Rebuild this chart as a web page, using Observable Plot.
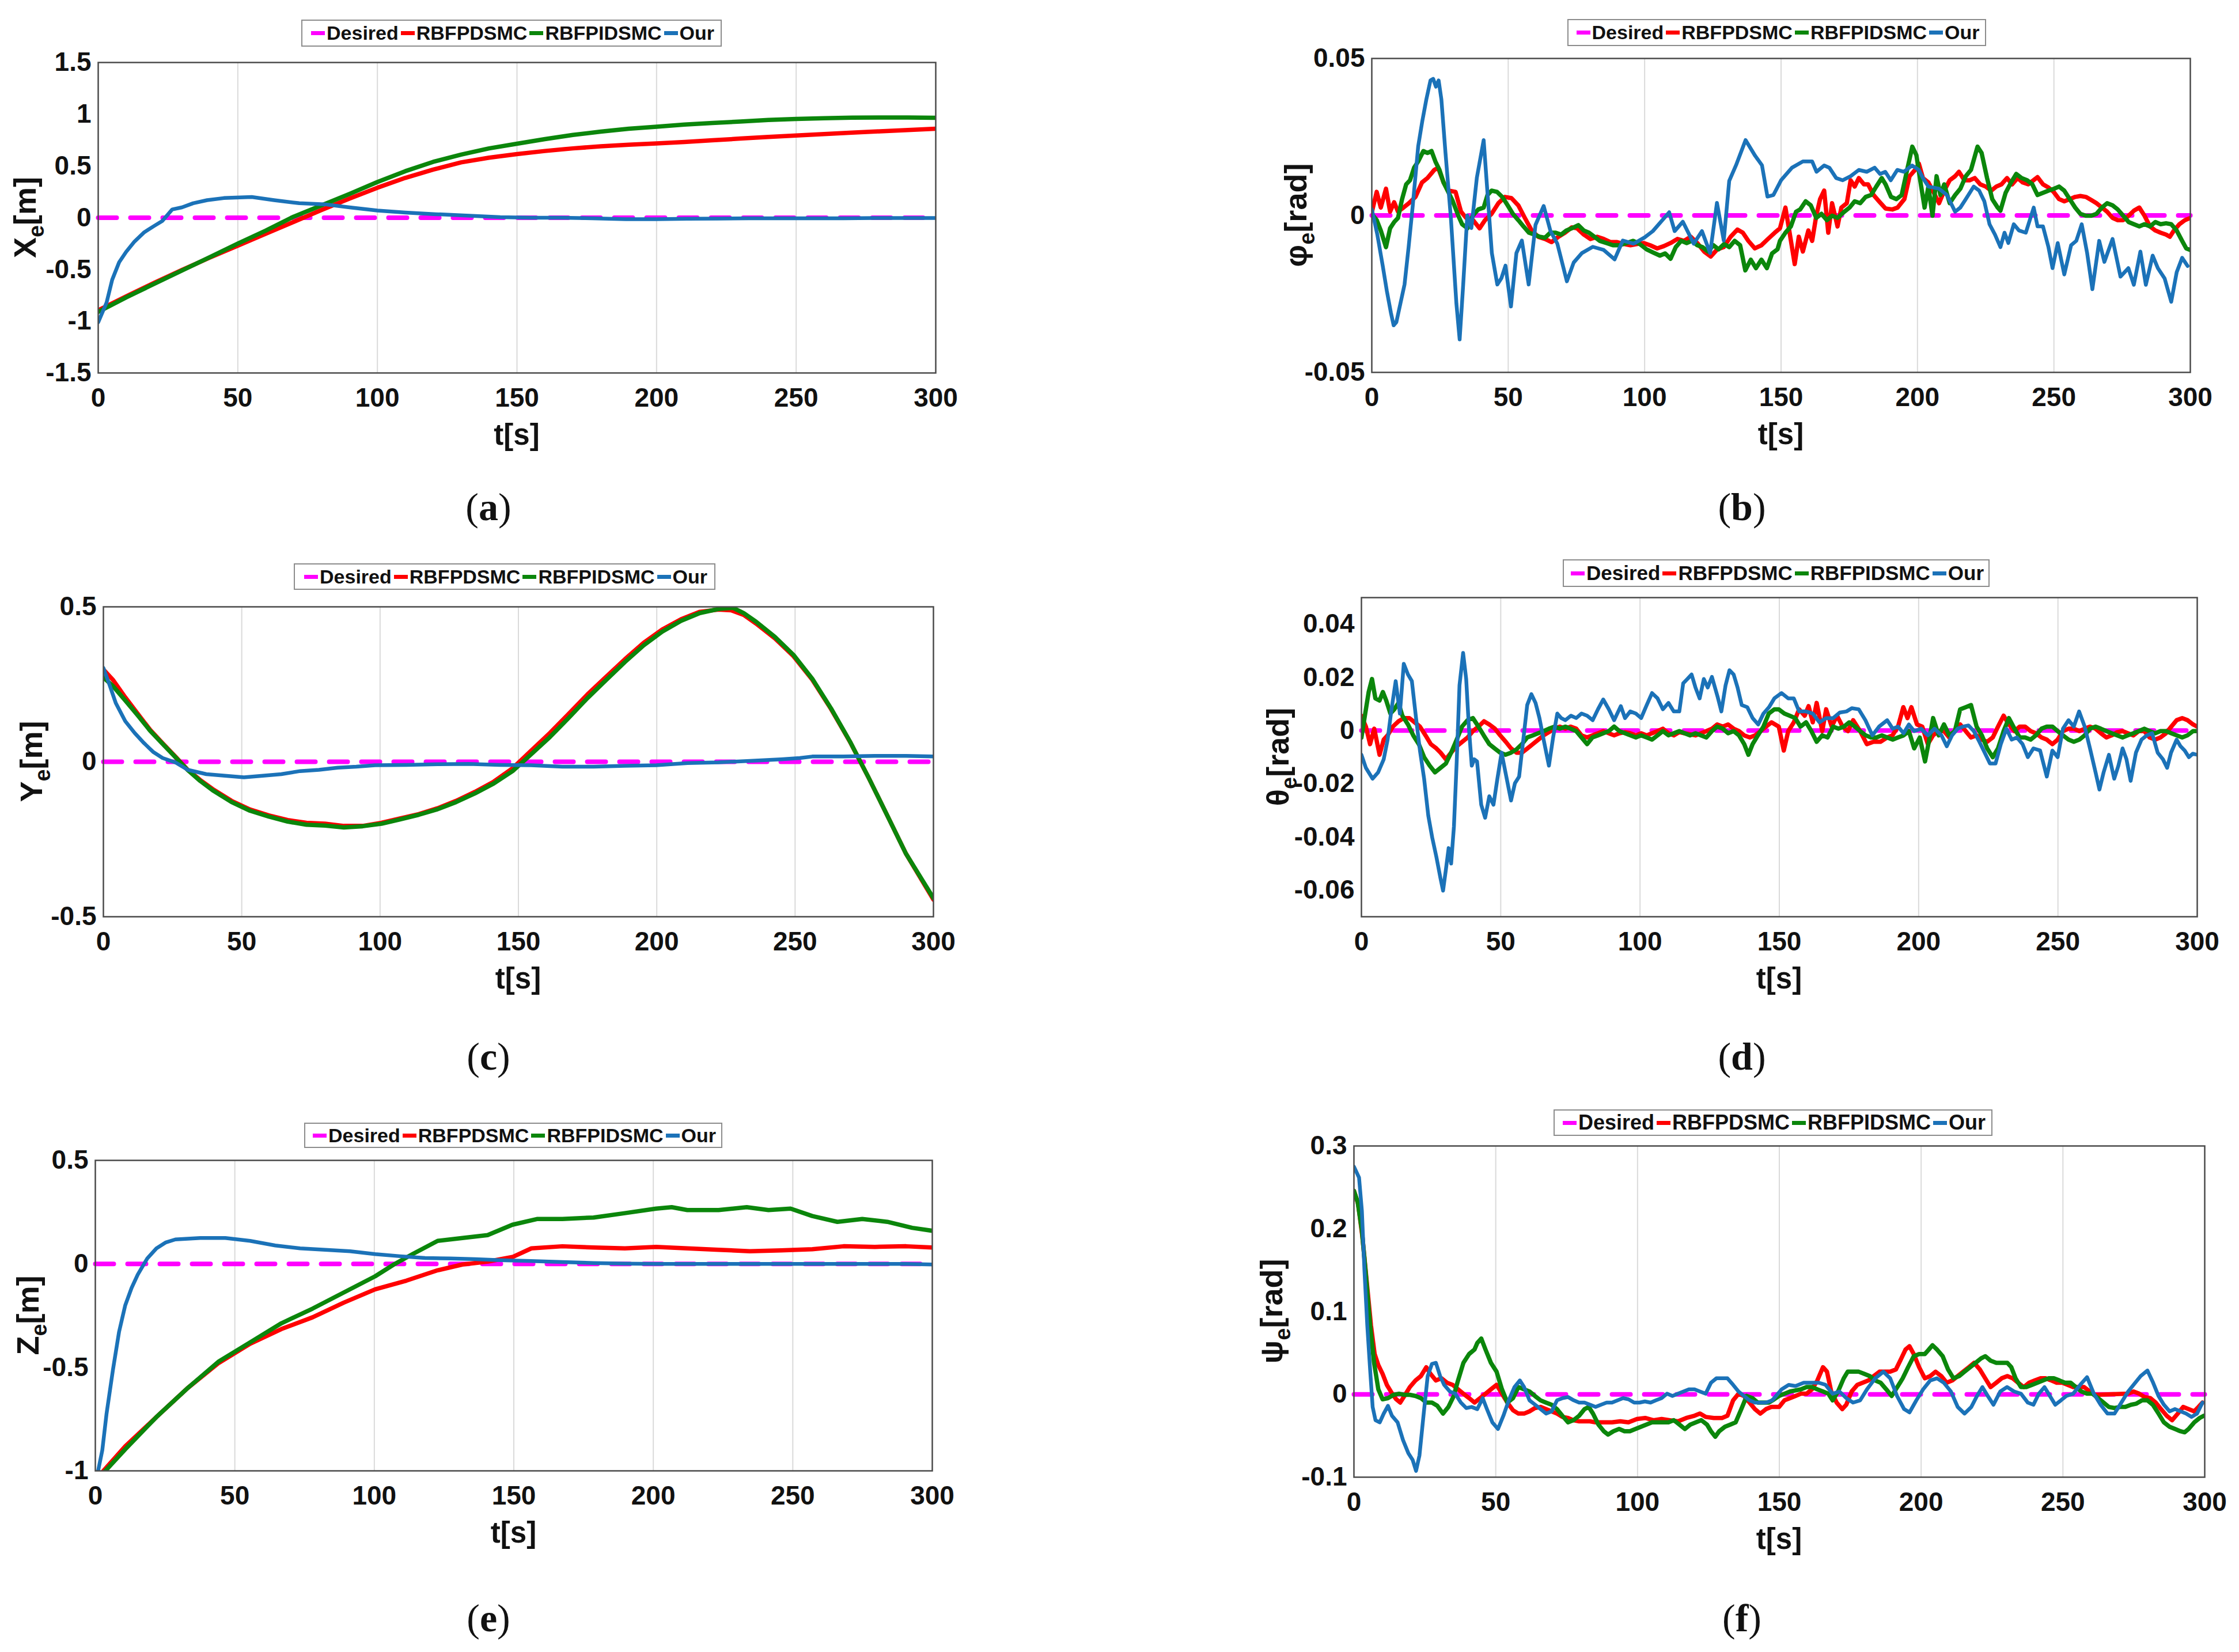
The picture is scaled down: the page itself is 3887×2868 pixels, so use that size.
<!DOCTYPE html>
<html><head><meta charset="utf-8">
<script src="https://cdn.jsdelivr.net/npm/d3@7"></script>
<script src="https://cdn.jsdelivr.net/npm/@observablehq/plot@0.6"></script>
<style>
body{margin:0;background:#fff;width:3887px;height:2868px;position:relative;overflow:hidden;font-family:"Liberation Sans",Arial,sans-serif;}
.legend{position:absolute;display:flex;align-items:center;justify-content:center;border:2px solid #8c8c8c;background:#fff;font-weight:bold;color:#111;box-sizing:border-box;white-space:nowrap;}
.legend .sw{display:inline-block;width:24px;height:7px;margin:0 3px 0 4px;}
.cap{position:absolute;font-family:"Liberation Serif","Times New Roman",serif;font-size:68px;color:#111;transform:translate(-50%,-50%);}
</style></head><body>
<script>
const xTicks = [0,50,100,150,200,250,300];
const seriesNames = ["Desired","RBFPDSMC","RBFPIDSMC","Our"];
const seriesColors = ["#ff00ff","#ff0000","#0b860b","#1b72b8"];
const desired = [[0,0],[300,0]];

// (a) X_e
const aTicks = [-1.5,-1,-0.5,0,0.5,1,1.5];
const aRed = [[0,-0.895],[10,-0.76],[20,-0.63],[30,-0.505],[40,-0.385],[50,-0.27],[60,-0.155],[70,-0.04],[80,0.075],[90,0.185],[100,0.29],[110,0.385],[120,0.465],[130,0.535],[140,0.58],[150,0.615],[160,0.645],[170,0.67],[180,0.69],[190,0.705],[200,0.718],[210,0.732],[220,0.748],[230,0.765],[240,0.78],[250,0.795],[260,0.808],[270,0.822],[280,0.835],[290,0.848],[300,0.86]];
const aGreen = [[0,-0.91],[10,-0.77],[20,-0.64],[30,-0.51],[40,-0.38],[50,-0.25],[60,-0.125],[70,0.01],[80,0.12],[90,0.23],[100,0.345],[110,0.45],[120,0.54],[130,0.61],[140,0.67],[150,0.715],[160,0.76],[170,0.8],[180,0.832],[190,0.86],[200,0.88],[210,0.9],[220,0.915],[230,0.93],[240,0.945],[250,0.955],[260,0.962],[270,0.967],[280,0.968],[290,0.968],[300,0.965]];
const aBlue = [[0,-1.01],[3,-0.82],[5,-0.6],[7.5,-0.43],[10,-0.33],[13,-0.23],[16.5,-0.14],[20,-0.08],[23,-0.03],[26.5,0.08],[30,0.1],[34,0.14],[39,0.17],[45,0.19],[55,0.2],[63,0.17],[72,0.14],[81,0.13],[90,0.1],[100,0.07],[110,0.05],[121,0.034],[133,0.02],[144,0.006],[155,0],[166,0],[177,-0.005],[189,-0.014],[200,-0.014],[211,-0.01],[222,-0.008],[233,-0.006],[245,-0.006],[256,-0.006],[267,-0.005],[278,-0.003],[289,-0.003],[300,-0.003]];

// (b) phi_e
const bTicks = [-0.05,0,0.05];
const bRed = [[0,0.001],[1.8,0.0075],[3.3,0.0025],[5.2,0.0085],[6.7,0.0012],[8.2,0.0042],[9.6,0.0012],[11.6,0.0025],[13.6,0.0039],[16,0.0059],[18.4,0.0105],[20.4,0.0119],[22.9,0.0145],[24.3,0.0152],[26.3,0.0105],[28.2,0.0079],[30.7,0.0075],[32.7,0.0012],[34.6,-0.0008],[37.1,-0.0015],[39.5,-0.0041],[41.5,-0.0015],[43.9,0.0005],[46.4,0.0039],[48.8,0.0059],[51.2,0.0055],[53.7,0.0032],[56.1,-0.0008],[58.6,-0.0048],[61,-0.0068],[63.5,-0.0075],[65.9,-0.0085],[68.4,-0.0068],[70.8,-0.0055],[73.3,-0.0038],[75.2,-0.0041],[77.7,-0.0061],[80.1,-0.0075],[82.6,-0.0068],[85,-0.0075],[87.5,-0.0085],[89.9,-0.0085],[92.4,-0.0091],[94.8,-0.0095],[97.3,-0.0091],[99.7,-0.0088],[102,-0.0095],[104.6,-0.0105],[107,-0.0098],[109.5,-0.0088],[112,-0.0075],[114.4,-0.0081],[116.9,-0.0068],[119.3,-0.0088],[121.8,-0.0115],[124.2,-0.0131],[126.6,-0.0108],[129,-0.0101],[131.5,-0.0068],[134,-0.0045],[136,-0.0055],[138,-0.0081],[140.4,-0.0105],[142.8,-0.0095],[145.2,-0.0075],[147.7,-0.0055],[149.6,-0.0041],[151.6,0.0025],[153,-0.0048],[155,-0.0155],[156.5,-0.0068],[158,-0.0115],[160,-0.0048],[161.4,-0.0081],[162.9,-0.0001],[164.3,0.0052],[165.8,0.0079],[167.3,-0.0055],[168.7,0.0039],[170.7,-0.0035],[172.1,0.0025],[174.1,0.0039],[175.5,0.0112],[177,0.0092],[178.5,0.0119],[180.4,0.0099],[181.9,0.0099],[183.9,0.0065],[185.9,0.0045],[188.3,0.0022],[190.8,0.0019],[192.7,0.0025],[195.2,0.0052],[197.1,0.0125],[199.1,0.0145],[200.5,0.0165],[202,0.0119],[204,0.0105],[206,0.0072],[207.9,0.0039],[209.8,0.0079],[211.8,0.0112],[213.8,0.0125],[215.2,0.0139],[217.2,0.0112],[219.1,0.0112],[221,0.0119],[223,0.0099],[225,0.0092],[227,0.0079],[228.9,0.0092],[230.8,0.0099],[232.8,0.0119],[234.7,0.0099],[236.7,0.0119],[238.6,0.0105],[240.6,0.0099],[242.5,0.0112],[244,0.0122],[246,0.0099],[248,0.0089],[249.9,0.0075],[251.9,0.0052],[253.8,0.0045],[255.8,0.0052],[257.8,0.0059],[259.7,0.0062],[261.7,0.0059],[263.7,0.0049],[265.6,0.0039],[267.6,0.0025],[269.5,0.0012],[271.5,-0.0008],[273.4,-0.0015],[275.4,-0.0015],[277.4,-0.0001],[279.3,0.0015],[281.3,0.0025],[283.2,-0.0001],[285.2,-0.0035],[287.2,-0.0048],[289.1,-0.0055],[291.1,-0.0061],[292.5,-0.0068],[294,-0.0048],[296,-0.0028],[298,-0.0015],[300,-0.0008]];
const bGreen = [[0,0.0005],[1.8,-0.0015],[3.3,-0.0048],[5.2,-0.0101],[6.7,-0.0041],[8.2,-0.0021],[9.6,-0.0008],[11.1,0.0052],[12.6,0.0099],[14,0.0112],[15.5,0.0152],[17,0.0172],[18.9,0.0205],[20.4,0.0199],[21.9,0.0205],[23.3,0.0172],[24.8,0.0145],[26.3,0.0105],[27.8,0.0079],[29.7,0.0045],[31.7,-0.0001],[33.1,-0.0028],[35.1,-0.0041],[37,-0.0001],[39,0.0019],[41,0.0025],[42.4,0.0065],[43.9,0.0079],[45.9,0.0075],[47.8,0.0059],[49.8,0.0032],[51.7,0.0005],[53.7,-0.0015],[55.6,-0.0035],[57.6,-0.0055],[59.6,-0.0061],[61.5,-0.0068],[63.5,-0.0071],[65.4,-0.0055],[67.4,-0.0055],[69.4,-0.0061],[71.3,-0.0048],[73.3,-0.0041],[75.7,-0.0031],[77.7,-0.0048],[79.6,-0.0055],[81.6,-0.0068],[83.5,-0.0081],[86,-0.0088],[88.4,-0.0095],[90.9,-0.0095],[93.3,-0.0088],[95.8,-0.0081],[98.2,-0.0091],[100.7,-0.0108],[103.1,-0.0118],[105.6,-0.0128],[107.5,-0.0121],[109.5,-0.0138],[111.4,-0.0101],[113.4,-0.0081],[115.4,-0.0088],[117.3,-0.0081],[119.3,-0.0095],[121.2,-0.0101],[123.2,-0.0115],[125.2,-0.0095],[127.1,-0.0108],[129.1,-0.0091],[131,-0.0101],[133,-0.0081],[135,-0.0095],[136.9,-0.0175],[138.9,-0.0141],[140.8,-0.0168],[142.8,-0.0141],[144.8,-0.0168],[146.7,-0.0121],[148.7,-0.0108],[149.6,-0.0081],[151.6,-0.0055],[153.6,-0.0035],[155.5,0.0012],[157,0.0019],[159,0.0045],[160.9,0.0032],[162.9,-0.0008],[164.8,0.0005],[166.8,-0.0015],[168.7,-0.0001],[170.7,-0.0008],[173.2,0.0012],[175.1,0.0025],[177,0.0045],[179,0.0039],[181,0.0059],[183,0.0065],[184.9,0.0092],[186.9,0.0119],[188.3,0.0099],[190.3,0.0059],[192.3,0.0052],[194.2,0.0065],[196.2,0.0145],[198.1,0.0219],[199.6,0.0192],[201,0.0112],[202.6,0.0025],[204,0.0092],[205.5,-0.0001],[207,0.0125],[208.4,0.0065],[209.8,0.0099],[211.8,0.0039],[213.8,0.0065],[215.7,0.0085],[217.7,0.0125],[219.6,0.0145],[222,0.0219],[223.5,0.0199],[225.5,0.0119],[227.4,0.0052],[229.4,0.0025],[230.4,0.0015],[232.3,0.0072],[234.3,0.0105],[236.2,0.0132],[238.2,0.0119],[240.2,0.0112],[242.1,0.0099],[244,0.0065],[246,0.0072],[248,0.0079],[250,0.0085],[251.9,0.0092],[253.8,0.0079],[255.8,0.0052],[257.8,0.0025],[259.7,0.0005],[261.7,-0.0001],[263.7,-0.0001],[265.6,0.0005],[267.6,0.0025],[269.5,0.0039],[271.5,0.0032],[273.4,0.0019],[275.4,-0.0001],[277.4,-0.0021],[279.3,-0.0028],[281.3,-0.0035],[283.2,-0.0028],[285.2,-0.0035],[287.2,-0.0021],[289.1,-0.0028],[291.1,-0.0025],[293,-0.0028],[295,-0.0048],[297,-0.0081],[298.5,-0.0105],[300,-0.011]];
const bBlue = [[0,0.002],[2,-0.006],[4,-0.016],[5.5,-0.024],[7,-0.031],[8,-0.035],[9,-0.034],[10.5,-0.028],[12,-0.022],[13.5,-0.01],[15,0.003],[17,0.022],[18.5,0.03],[20,0.037],[21.5,0.043],[22.5,0.0435],[23.5,0.041],[24.5,0.043],[25.5,0.037],[27,0.02],[29,-0.001],[31,-0.028],[32.2,-0.0395],[33.5,-0.022],[35,0],[36.5,-0.004],[38.5,0.012],[41,0.024],[42.5,0.006],[44,-0.012],[46,-0.022],[47.5,-0.02],[49,-0.016],[51,-0.029],[53,-0.012],[55,-0.008],[57.5,-0.022],[60,-0.003],[63,0.003],[65.5,-0.005],[68,-0.009],[71.5,-0.021],[74,-0.015],[77,-0.012],[81,-0.01],[85,-0.011],[89,-0.014],[92,-0.008],[96,-0.009],[100,-0.007],[103,-0.005],[106,-0.002],[109,0.001],[111,-0.005],[114,-0.002],[118,-0.009],[121,-0.005],[124,-0.012],[126.5,0.004],[129,-0.008],[131,0.011],[133.5,0.016],[137,0.024],[140.5,0.019],[143,0.016],[145,0.006],[147.2,0.0065],[150,0.0112],[154,0.0152],[158,0.0172],[161.4,0.0172],[163,0.0139],[165.8,0.0159],[167.7,0.0152],[170.2,0.0119],[172.6,0.0112],[175.5,0.0125],[178.5,0.0145],[181.4,0.0139],[184.3,0.0152],[186.3,0.0132],[188.2,0.0139],[190.2,0.0112],[192.6,0.0145],[195,0.0139],[198,0.0159],[200.5,0.0145],[202,0.0119],[204,0.0092],[207.9,0.0085],[210.8,0.0065],[213.8,0.0012],[215.7,0.0025],[217.7,0.0052],[220.6,0.0092],[222.6,0.0079],[224.5,0.0045],[226.4,-0.0028],[228.4,-0.0061],[230.4,-0.0101],[231.9,-0.0055],[233.3,-0.0088],[235.3,-0.0028],[237.2,-0.0048],[239.7,-0.0055],[242.6,0.0025],[244,-0.0035],[246,-0.0035],[248,-0.0101],[249.5,-0.0168],[251.4,-0.0088],[253.8,-0.0188],[256.3,-0.0095],[258.2,-0.0081],[260.2,-0.0028],[262.2,-0.0121],[264.1,-0.0235],[266.6,-0.0081],[268.5,-0.0148],[271.5,-0.0075],[274.4,-0.0195],[277.3,-0.0168],[279.3,-0.0221],[281.7,-0.0115],[283.7,-0.0221],[286.2,-0.0128],[288.1,-0.0168],[290.6,-0.0201],[293,-0.0275],[295,-0.0181],[297,-0.0135],[299,-0.0161]];

// (c) Y_e
const cTicks = [-0.5,0,0.5];
const cRed = [[0,0.298],[3.4,0.265],[7.9,0.208],[12.4,0.155],[16.9,0.103],[21.4,0.06],[26,0.017],[30.5,-0.026],[35,-0.059],[39.5,-0.088],[46.3,-0.126],[53,-0.154],[59.8,-0.173],[66.6,-0.188],[73.4,-0.197],[80.1,-0.2],[86.9,-0.207],[93.7,-0.207],[100.5,-0.197],[107.2,-0.183],[114,-0.169],[120.8,-0.15],[127.5,-0.126],[134.3,-0.097],[141.1,-0.064],[147.9,-0.021],[154.6,0.036],[161.4,0.093],[168.2,0.155],[174.9,0.217],[181.7,0.274],[188.5,0.331],[195.3,0.384],[202,0.427],[208.8,0.46],[215.6,0.484],[222.3,0.491],[226.9,0.489],[231.4,0.474],[235.9,0.446],[242.7,0.398],[249.4,0.341],[256.2,0.265],[263,0.17],[269.8,0.065],[276.5,-0.05],[283.3,-0.173],[290.1,-0.297],[300,-0.445]];
const cGreen = [[0,0.272],[3.4,0.245],[7.9,0.198],[12.4,0.15],[16.9,0.1],[21.4,0.058],[26,0.015],[30.5,-0.027],[35,-0.062],[39.5,-0.092],[46.3,-0.13],[53,-0.158],[59.8,-0.177],[66.6,-0.193],[73.4,-0.203],[80.1,-0.206],[86.9,-0.212],[93.7,-0.208],[100.5,-0.2],[107.2,-0.186],[114,-0.171],[120.8,-0.153],[127.5,-0.13],[134.3,-0.102],[141.1,-0.07],[147.9,-0.03],[154.6,0.024],[161.4,0.08],[168.2,0.142],[174.9,0.205],[181.7,0.264],[188.5,0.322],[195.3,0.376],[202,0.42],[208.8,0.455],[215.6,0.48],[222.3,0.493],[227.5,0.497],[231.4,0.48],[235.9,0.452],[242.7,0.403],[249.4,0.345],[256.2,0.268],[263,0.172],[269.8,0.066],[276.5,-0.05],[283.3,-0.173],[290.1,-0.297],[300,-0.44]];
const cBlue = [[0,0.303],[2.3,0.246],[4.5,0.189],[7.9,0.131],[11.3,0.093],[14.7,0.06],[18.1,0.031],[21.4,0.012],[26,-0.002],[30.5,-0.026],[37.2,-0.04],[44,-0.045],[50.8,-0.05],[57.6,-0.045],[64.3,-0.04],[71.1,-0.03],[77.9,-0.026],[84.7,-0.019],[91.4,-0.016],[98.2,-0.011],[109.5,-0.01],[120.8,-0.008],[132.1,-0.007],[143.3,-0.01],[154.6,-0.011],[165.9,-0.016],[177.2,-0.016],[188.5,-0.013],[199.8,-0.011],[211.1,-0.004],[222.3,-0.002],[233.6,0.003],[244.9,0.008],[251.7,0.012],[256.2,0.017],[267.5,0.017],[278.8,0.019],[290.1,0.019],[300,0.017]];

// (d) theta_e
const dTicks = [-0.06,-0.04,-0.02,0,0.02,0.04];
const dRed = [[0,0.0055],[1.6,0.0015],[3.1,-0.0051],[4.6,0.0007],[6.5,-0.0091],[8,-0.0034],[9.4,-0.0018],[11.3,0.0015],[13.3,0.0035],[15.2,0.0047],[17.2,0.0047],[19.1,0.0031],[21,0.0015],[23,-0.0018],[24.9,-0.0051],[26.9,-0.0067],[28.4,-0.0083],[30.3,-0.0108],[32.2,-0.0083],[34.2,-0.0059],[36.2,-0.0042],[38.1,-0.0026],[40,-0.0002],[42,0.0015],[44,0.0035],[45.9,0.0023],[47.9,0.0007],[49.8,-0.0018],[51.8,-0.0042],[53.7,-0.0067],[55.7,-0.0083],[57.6,-0.0083],[59.6,-0.0067],[61.5,-0.0051],[63.5,-0.0034],[65.4,-0.0018],[67.3,-0.0006],[69.3,0.0007],[71.2,0.0015],[73.2,0.0007],[75.1,0.0015],[77.1,0.0007],[79,-0.0018],[81,-0.0026],[82.9,-0.0018],[84.9,-0.001],[86.8,-0.0002],[88.8,-0.001],[90.7,-0.0018],[92.6,-0.001],[94.6,-0.0006],[96.5,-0.001],[98.5,-0.0018],[100.4,-0.001],[102.4,-0.0018],[104.3,-0.001],[106.3,-0.0002],[108.2,0.0007],[110.2,-0.001],[112.1,-0.0018],[114.1,-0.0006],[116,-0.001],[118,-0.0014],[119.9,-0.0018],[121.9,-0.001],[123.8,-0.0002],[125.8,0.0007],[127.7,0.0023],[129.7,0.0015],[131.6,0.0023],[133.6,0.0007],[135.5,-0.0002],[137.4,-0.0018],[139.4,-0.0026],[141.3,-0.0018],[143.3,-0.0002],[145.2,0.0015],[147.2,0.0031],[149.8,0.0015],[151.6,-0.0075],[153.2,-0.0002],[155.2,0.0031],[157.1,0.008],[159.1,0.0056],[160.5,0.0092],[162,0.0031],[163.4,0.0104],[165.4,-0.0002],[166.8,0.008],[168.8,0.0015],[170.7,0.0056],[172.7,0.0015],[174.6,-0.0002],[176.5,0.0039],[179,-0.0002],[181.4,-0.0051],[183.8,-0.0042],[186.3,-0.0042],[188.7,-0.0026],[190.6,-0.0018],[192.6,0.0015],[194.5,0.0088],[196,0.0047],[197.4,0.0088],[199.4,0.0023],[201.3,0.0015],[203.3,-0.0051],[205.2,-0.0018],[207.2,-0.0002],[209.1,-0.0002],[211,-0.0026],[213,-0.0002],[214.9,0.0023],[216.9,-0.0002],[218.8,-0.0026],[220.8,-0.0018],[222.7,-0.0034],[224.6,-0.0042],[226.6,-0.0026],[228.5,0.0015],[230.5,0.0056],[232.4,0.0023],[234.4,-0.0002],[236.3,0.0015],[238.2,0.0015],[240.2,-0.0002],[242.1,-0.001],[244.1,-0.0026],[246,-0.0034],[248,-0.0051],[249.9,-0.0034],[251.8,-0.0002],[253.8,0.0007],[255.7,0.0007],[257.7,-0.0002],[259.6,0.0007],[261.5,0.0015],[263.5,0.0007],[265.4,-0.001],[267.4,-0.0026],[269.3,-0.0018],[271.3,-0.0006],[273.2,-0.0002],[275.1,-0.001],[277.1,-0.0018],[279,-0.0002],[281,-0.0002],[282.9,-0.0026],[284.9,-0.0034],[286.8,-0.0026],[288.8,-0.001],[290.7,0.0015],[292.6,0.0039],[294.6,0.0047],[296.5,0.0039],[298.5,0.0023],[300,0.0015]];
const dGreen = [[0,-0.0026],[1.1,0.0047],[2.6,0.0145],[3.8,0.0194],[5,0.0121],[6.5,0.0113],[7.7,0.0145],[8.9,0.0113],[10.4,0.0064],[11.8,0.008],[13.3,0.0104],[14.7,0.0056],[16.7,0.0023],[18.6,-0.0018],[20.6,-0.0051],[22.5,-0.01],[24.5,-0.0132],[26.4,-0.0157],[28.4,-0.014],[30.3,-0.0124],[32.2,-0.0083],[34.2,-0.0034],[36.1,0.0015],[38.1,0.0039],[40,0.0047],[42,0.0015],[43.9,-0.0018],[45.9,-0.0051],[47.8,-0.0067],[49.8,-0.0083],[51.7,-0.0091],[53.7,-0.0083],[55.6,-0.0071],[57.6,-0.0051],[59.5,-0.0026],[61.5,-0.0018],[63.4,-0.001],[65.4,-0.0002],[67.3,0.0007],[69.3,0.0015],[71.2,0.0007],[73.2,0.0015],[75.1,0.0007],[77.1,-0.0002],[79,-0.0026],[81,-0.0051],[82.9,-0.0026],[84.9,-0.0018],[86.8,-0.001],[88.8,-0.0002],[90.7,0.0015],[92.6,-0.0002],[94.6,-0.001],[96.5,-0.0018],[98.5,-0.0026],[100.4,-0.0018],[102.4,-0.0026],[104.3,-0.0034],[106.3,-0.0018],[108.2,-0.0002],[110.2,-0.0018],[112.1,-0.001],[114.1,-0.0002],[116,-0.001],[118,-0.0018],[119.9,-0.001],[121.9,-0.0018],[123.8,-0.0026],[125.8,-0.0002],[127.7,0.0015],[129.7,0.0007],[131.6,-0.001],[133.6,-0.0002],[135.5,-0.0018],[137.4,-0.0051],[138.9,-0.0091],[140.4,-0.0051],[142.3,-0.0018],[144.3,0.0015],[146.2,0.0064],[148.2,0.008],[149.8,0.008],[151.8,0.0064],[153.7,0.0056],[155.7,0.0047],[157.6,0.0015],[159.6,0.0031],[161.5,-0.0002],[163.4,-0.0042],[165.4,-0.0018],[167.3,-0.0026],[169.3,0.0015],[171.2,0.0007],[173.2,0.0015],[175.1,0.0031],[177.1,0.0015],[179,-0.0002],[181,-0.0018],[182.9,-0.0026],[184.9,-0.0026],[186.8,-0.0018],[188.7,-0.0026],[190.7,-0.0034],[192.6,-0.0026],[194.6,-0.0018],[196.5,-0.0002],[198.4,-0.0067],[200.4,-0.0026],[202.3,-0.0116],[203.8,-0.0034],[205.2,0.0047],[207.2,-0.0018],[209.1,0.0023],[211,-0.0018],[213,-0.0002],[214.9,0.008],[216.9,0.0088],[218.8,0.0096],[220.8,0.0015],[222.7,-0.0018],[224.6,-0.0067],[226.6,-0.01],[228.5,-0.0067],[230.5,-0.0002],[232.4,0.0047],[234.4,0.0007],[236.3,-0.0026],[238.2,-0.0026],[240.2,-0.0034],[242.1,-0.0018],[244.1,0.0007],[246,0.0015],[248,0.0015],[249.9,-0.0002],[251.8,-0.0018],[253.8,-0.0034],[255.7,-0.0042],[257.7,-0.0034],[259.6,-0.0018],[261.5,0.0007],[263.5,0.0015],[265.4,0.0007],[267.4,-0.0002],[269.3,-0.001],[271.3,-0.0018],[273.2,-0.0026],[275.1,-0.0018],[277.1,-0.001],[279,-0.0002],[281,0.0007],[282.9,-0.0002],[284.9,-0.001],[286.8,-0.0002],[288.8,-0.0002],[290.7,-0.001],[292.6,-0.0018],[294.6,-0.0026],[296.5,-0.0018],[298.5,-0.0002],[300,-0.0002]];
const dBlue = [[0,-0.0091],[1.6,-0.014],[4,-0.0181],[6,-0.0157],[8,-0.0108],[9.4,-0.0034],[10.8,0.008],[12.3,0.0186],[13.8,0.0064],[15.2,0.0251],[16.7,0.0211],[18.1,0.0186],[19.6,0.0047],[21,-0.0075],[22.5,-0.0181],[24,-0.032],[25.4,-0.0402],[26.9,-0.0475],[28.4,-0.0557],[29.3,-0.0602],[30.3,-0.0524],[31.3,-0.0442],[32.2,-0.05],[33.2,-0.0361],[34.2,-0.0116],[35.2,0.017],[36.5,0.0292],[37.6,0.0194],[38.6,0.0007],[39.6,-0.0132],[40.5,-0.0108],[41.5,-0.0116],[43,-0.0279],[44.4,-0.0328],[45.9,-0.0247],[47.4,-0.0279],[48.8,-0.0181],[50.3,-0.0083],[51.7,-0.0157],[53.7,-0.0263],[55.1,-0.0198],[56.6,-0.0173],[58.1,-0.0034],[59.5,0.0096],[61,0.0137],[62.5,0.0104],[63.9,0.0047],[65.4,-0.0034],[67.3,-0.0132],[68.8,-0.0026],[70.3,0.0064],[71.7,0.0047],[73.2,0.0039],[75.2,0.0056],[77.1,0.0047],[79,0.0064],[81,0.0056],[83,0.0039],[84.9,0.008],[86.8,0.0117],[88.8,0.008],[90.7,0.0039],[93.1,0.0092],[94.6,0.0047],[96.5,0.0072],[98.5,0.0064],[100.4,0.0047],[102.4,0.0096],[104.3,0.0141],[106.3,0.0121],[108.2,0.008],[110.2,0.0104],[112.1,0.0072],[114.1,0.0072],[115.5,0.0178],[117,0.0194],[118.5,0.0211],[119.9,0.0162],[121.4,0.0121],[122.9,0.0194],[124.3,0.0162],[125.8,0.0202],[127.8,0.0129],[129.2,0.0072],[130.7,0.017],[132.1,0.0227],[133.6,0.0211],[135,0.0162],[136.5,0.0096],[138.5,0.0088],[140.4,0.0047],[142.4,0.0023],[144.3,0.0064],[146.3,0.0088],[148.2,0.0121],[150.8,0.0141],[153.2,0.0121],[155.2,0.0121],[157.1,0.0072],[159.6,0.0072],[162,0.0064],[164.4,0.0031],[166.8,0.0047],[169.3,0.0047],[171.7,0.0068],[174.1,0.0072],[176,0.0084],[178.5,0.008],[180.9,0.0039],[183.4,-0.0018],[185.8,0.0015],[188.7,0.0039],[190.7,0.0007],[192.6,0.0015],[194.6,-0.001],[196.5,0.0023],[198.4,-0.0002],[200.9,0.0007],[203.3,-0.0018],[205.7,0.0007],[208.2,-0.0018],[210.1,-0.0059],[212,-0.0018],[214,0.0007],[215.9,0.0015],[217.9,0.0019],[219.8,-0.0002],[221.8,-0.0042],[223.7,-0.0083],[225.6,-0.0124],[227.6,-0.0124],[229.5,-0.0051],[231.5,0.0007],[233.4,-0.0034],[235.3,-0.0026],[237.3,-0.0051],[239.2,-0.01],[241.2,-0.0067],[243.6,-0.0075],[246,-0.0173],[248,-0.0075],[249.9,-0.01],[251.8,0.0007],[253.8,0.0039],[255.7,0.0015],[257.6,0.0072],[259.6,0.0015],[261.5,-0.0067],[263.5,-0.0157],[264.9,-0.0222],[266.4,-0.0157],[268.3,-0.0091],[270.2,-0.0181],[271.7,-0.0132],[273.2,-0.0067],[274.6,-0.0108],[276.1,-0.0189],[278,-0.0083],[280,-0.0034],[281.9,-0.0018],[283.8,-0.001],[285.8,-0.0083],[287.7,-0.0108],[289.2,-0.014],[290.6,-0.0083],[292.6,-0.0034],[294,-0.0059],[295.5,-0.0075],[297,-0.01],[298.4,-0.0087],[300,-0.0091]];

// (e) Z_e
const eTicks = [-1,-0.5,0,0.5];
const eRed = [[2.9,-1],[10.7,-0.882],[21.9,-0.74],[33.1,-0.6],[44.3,-0.478],[55.5,-0.386],[66.7,-0.315],[77.9,-0.258],[89.1,-0.187],[100.3,-0.123],[111.5,-0.081],[122.7,-0.031],[131.6,-0.003],[140.6,0.011],[149.5,0.033],[156.3,0.075],[167.4,0.085],[178.6,0.079],[189.8,0.075],[201,0.082],[212.2,0.075],[223.4,0.068],[234.6,0.061],[245.8,0.065],[257,0.071],[268.2,0.085],[279.4,0.082],[290.6,0.085],[300,0.079]];
const eGreen = [[3.6,-1],[10.7,-0.896],[21.9,-0.74],[33.1,-0.6],[44.3,-0.471],[55.5,-0.379],[66.7,-0.287],[77.9,-0.216],[89.1,-0.138],[100.3,-0.06],[107,-0.003],[113.7,0.047],[122.7,0.111],[131.6,0.125],[140.6,0.139],[149.5,0.189],[158.5,0.217],[167.4,0.217],[178.6,0.224],[189.8,0.245],[201,0.267],[206.6,0.274],[212.2,0.26],[223.4,0.26],[233.5,0.274],[241.3,0.26],[249.2,0.267],[257,0.231],[266,0.203],[274.9,0.217],[283.9,0.203],[292.8,0.174],[300,0.16]];
const eBlue = [[1,-1],[2.5,-0.9],[4,-0.726],[6.3,-0.513],[8.5,-0.329],[10.7,-0.201],[13,-0.116],[15.2,-0.052],[18.6,0.026],[21.9,0.075],[25.3,0.104],[28.7,0.118],[37.6,0.125],[46.6,0.125],[55.5,0.111],[64.5,0.089],[73.4,0.075],[82.4,0.068],[91.3,0.061],[100.3,0.047],[109.2,0.037],[118.2,0.028],[127.2,0.026],[136.1,0.023],[145.1,0.018],[156.3,0.014],[167.4,0.009],[178.6,0.004],[189.8,0.001],[201,0],[212.2,0],[223.4,0],[234.6,0],[245.8,0],[257,0],[268.2,0],[279.4,0],[290.6,0],[300,-0.003]];

// (f) psi_e
const fTicks = [-0.1,0,0.1,0.2,0.3];
const fRed = [[0,0.2458],[1.5,0.2298],[3,0.1899],[4.5,0.1366],[6,0.0834],[7.3,0.0487],[8.6,0.0354],[10.1,0.0248],[11.6,0.0115],[13.5,0.0008],[14.9,-0.0059],[16.3,-0.0099],[17.8,-0.0019],[19.7,0.0088],[21.7,0.0168],[23.6,0.0221],[25.5,0.0328],[27,0.0248],[28.9,0.0168],[30.9,0.0194],[32.8,0.0141],[34.8,0.0115],[36.7,0.0061],[38.6,0.0008],[40.6,-0.0045],[42.5,-0.0099],[44.5,-0.0045],[46.4,0.0008],[48.3,0.0061],[50.3,0.0115],[52.2,0.0008],[54.1,-0.0099],[56.1,-0.0192],[58,-0.0232],[60,-0.0232],[61.9,-0.0205],[63.8,-0.0165],[65.8,-0.0152],[67.7,-0.0178],[69.7,-0.0205],[71.6,-0.0232],[73.5,-0.0272],[75.5,-0.0285],[77.4,-0.0312],[79.4,-0.0325],[83.2,-0.0325],[85.2,-0.0338],[91,-0.0338],[93.9,-0.0325],[96.8,-0.0338],[99.8,-0.0298],[102.7,-0.0285],[105.6,-0.0312],[108.5,-0.0298],[111.4,-0.0312],[114.3,-0.0325],[117.2,-0.0285],[120.1,-0.0258],[122,-0.0232],[124,-0.0272],[126.9,-0.0285],[129.8,-0.0285],[131.7,-0.0258],[133.7,-0.0072],[135.6,0.0008],[137.5,-0.0019],[139.5,-0.0099],[141.4,-0.0178],[143.3,-0.0232],[145.3,-0.0178],[147.2,-0.0152],[149.9,-0.0152],[151.8,-0.0072],[153.8,-0.0045],[155.7,-0.0019],[157.6,0.0008],[159.6,0.0008],[161.5,0.0061],[163.4,0.0168],[165.4,0.0328],[166.8,0.0274],[168.3,0.0035],[170.2,-0.0099],[172.2,-0.0178],[173.6,-0.0125],[175.5,0.0035],[177.5,0.0115],[179.4,0.0141],[181.4,0.0168],[183.3,0.0221],[185.3,0.0274],[189.1,0.0274],[191.1,0.0301],[193,0.0434],[194.5,0.0541],[195.9,0.0581],[197.4,0.0487],[199.3,0.0328],[201.3,0.0194],[203.2,0.0221],[205.1,0.0274],[207.1,0.0221],[209,0.0141],[211,0.0168],[212.9,0.0221],[214.8,0.0274],[216.8,0.0328],[218.7,0.0381],[220.7,0.0301],[222.6,0.0194],[224.5,0.0088],[226.5,0.0141],[228.4,0.0194],[230.4,0.0221],[232.3,0.0194],[234.2,0.0141],[236.2,0.0088],[238.1,0.0141],[240.1,0.0168],[242,0.0194],[243.9,0.0194],[245.9,0.0168],[247.8,0.0141],[249.8,0.0141],[251.7,0.0115],[253.6,0.0088],[257.5,0.0088],[259.5,0.0035],[261.4,-0.0005],[273,0.0008],[274.9,0.0035],[276.9,0.0008],[278.8,-0.0032],[280.8,-0.0045],[282.7,-0.0099],[284.6,-0.0178],[286.6,-0.0258],[288.5,-0.0312],[290.5,-0.0232],[292.4,-0.0152],[294.3,-0.0178],[296.3,-0.0205],[297.8,-0.0152],[299.2,-0.0099]];
const fGreen = [[0,0.2458],[1.3,0.2325],[2.8,0.1979],[4.2,0.1446],[5.7,0.0834],[7.1,0.0381],[8.6,0.0061],[10.1,-0.0059],[12,-0.0045],[14,-0.0005],[15.9,0.0008],[17.8,-0.0005],[19.7,-0.0005],[21.7,-0.0019],[23.6,-0.0045],[25.5,-0.0099],[27.5,-0.0099],[29.4,-0.0138],[31.4,-0.0232],[33.3,-0.0152],[35.2,-0.0019],[36.7,0.0168],[38.6,0.0381],[40.6,0.0487],[42.5,0.0541],[43.5,0.0621],[44.9,0.0674],[46.4,0.0541],[48.3,0.0381],[50.3,0.0274],[52.2,0.0061],[54.1,-0.0099],[56.1,-0.0045],[58,0.0088],[60,0.0061],[61.9,0.0035],[63.8,-0.0019],[65.8,-0.0072],[67.7,-0.0099],[69.7,-0.0125],[71.6,-0.0178],[73.5,-0.0258],[75.5,-0.0338],[77.4,-0.0312],[79.4,-0.0258],[81.3,-0.0178],[82.8,-0.0152],[84.3,-0.0232],[86.2,-0.0365],[88.1,-0.0445],[89.6,-0.0485],[91.5,-0.0445],[93.5,-0.0418],[95.4,-0.0445],[97.3,-0.0445],[99.3,-0.0418],[101.2,-0.0391],[103.1,-0.0365],[105.1,-0.0338],[110.9,-0.0338],[112.8,-0.0312],[114.8,-0.0365],[116.7,-0.0418],[118.6,-0.0365],[120.6,-0.0338],[122.5,-0.0312],[124.5,-0.0365],[125.9,-0.0445],[127.4,-0.0511],[128.8,-0.0445],[130.8,-0.0391],[132.7,-0.0365],[134.6,-0.0338],[136.6,-0.0178],[138.5,-0.0019],[140.5,-0.0045],[142.4,-0.0099],[146.3,-0.0099],[148.2,-0.0059],[149.9,-0.0019],[151.8,0.0008],[153.8,0.0035],[155.7,0.0048],[157.6,0.0061],[159.6,0.0088],[161.5,0.0088],[163.4,0.0061],[165.4,0.0035],[167.3,0.0008],[168.8,-0.0072],[170.7,0.0035],[172.7,0.0194],[174.1,0.0274],[178,0.0274],[179.9,0.0248],[181.9,0.0221],[183.8,0.0168],[185.7,0.0141],[187.7,0.0061],[189.6,-0.0019],[191.6,0.0088],[193.5,0.0194],[195.4,0.0328],[197.4,0.0461],[199.3,0.0487],[201.3,0.0487],[202.7,0.0541],[204,0.0594],[205.6,0.0541],[207.6,0.0461],[209.5,0.0301],[211.4,0.0194],[213.4,0.0221],[215.3,0.0274],[217.3,0.0328],[219.2,0.0381],[221.1,0.0434],[222.6,0.0461],[224.5,0.0407],[226.5,0.0381],[230.4,0.0381],[231.8,0.0328],[233.3,0.0194],[235.2,0.0088],[237.1,0.0088],[239.1,0.0115],[241,0.0141],[243,0.0168],[244.9,0.0194],[246.8,0.0194],[248.8,0.0168],[250.7,0.0141],[252.7,0.0141],[254.6,0.0088],[256.5,0.0035],[258.5,0.0008],[260.4,0.0008],[262.4,-0.0045],[264.3,-0.0099],[266.2,-0.0152],[268.2,-0.0165],[270.1,-0.0152],[272,-0.0152],[274,-0.0125],[275.9,-0.0112],[277.9,-0.0072],[279.8,-0.0072],[281.7,-0.0125],[283.7,-0.0232],[285.6,-0.0338],[287.6,-0.0391],[289.5,-0.0418],[291.4,-0.0445],[292.9,-0.0458],[294.3,-0.0418],[296.3,-0.0338],[298.2,-0.0285],[299.7,-0.0258]];
const fBlue = [[0,0.275],[1.8,0.2618],[2.8,0.2218],[3.7,0.1499],[4.7,0.0834],[5.7,0.0301],[6.6,-0.0152],[7.6,-0.0312],[9.1,-0.0338],[10.5,-0.0232],[12,-0.0138],[13.4,-0.0258],[15.4,-0.0338],[17.3,-0.0551],[19.2,-0.0711],[20.7,-0.0791],[21.9,-0.0924],[23.1,-0.0738],[24.6,-0.0232],[26,0.0221],[27.5,0.0368],[28.9,0.0381],[30.4,0.0221],[31.8,0.0115],[33.8,0.0035],[35.7,0.0008],[37.7,-0.0099],[39.6,-0.0165],[41.5,-0.0152],[43.5,-0.0178],[45.4,-0.0045],[46.9,-0.0178],[48.8,-0.0338],[50.8,-0.0418],[52.7,-0.0258],[54.6,-0.0072],[56.6,0.0088],[58.5,0.0168],[60,0.0088],[61.9,-0.0072],[63.9,-0.0125],[65.8,-0.0178],[67.8,-0.0232],[69.7,-0.0205],[71.6,-0.0072],[73.6,-0.0045],[75.5,-0.0032],[77.5,-0.0072],[79.4,-0.0099],[81.3,-0.0099],[83.3,-0.0125],[85.2,-0.0152],[87.1,-0.0125],[89.1,-0.0099],[91,-0.0099],[93,-0.0072],[94.9,-0.0045],[96.8,-0.0059],[98.8,-0.0099],[100.7,-0.0099],[102.6,-0.0085],[104.6,-0.0099],[106.5,-0.0072],[108.5,-0.0045],[110.4,0.0008],[112.3,-0.0019],[114.3,0.0008],[116.2,0.0035],[118.1,0.0061],[120.1,0.0061],[122,0.0035],[124,0.0008],[125.9,0.0141],[127.8,0.0194],[129.8,0.0194],[131.7,0.0194],[133.7,0.0115],[135.6,0.0035],[137.5,-0.0019],[139.5,-0.0072],[141.4,-0.0099],[143.3,-0.0099],[145.3,-0.0099],[147.5,-0.0072],[150.8,0.0061],[153.3,0.0115],[155.7,0.0101],[158.6,0.0141],[161.5,0.0141],[163.9,0.0141],[166.3,0.0115],[168.8,0.0008],[171.2,0.0035],[173.6,-0.0045],[176,-0.0099],[178.5,-0.0072],[180.9,0.0061],[183.8,0.0194],[186.7,0.0274],[189.1,0.0194],[191.5,-0.0019],[194,-0.0178],[195.9,-0.0218],[198.3,-0.0072],[200.7,0.0061],[203.2,0.0168],[205.6,0.0194],[208,0.0141],[210.5,0.0035],[212.9,-0.0152],[215.3,-0.0232],[217.7,-0.0152],[219.7,-0.0019],[221.6,0.0088],[223.5,-0.0019],[225.5,-0.0125],[227.9,0.0035],[230.3,0.0088],[232.8,0.0035],[235.2,0.0008],[237.6,-0.0099],[239.6,-0.0125],[241.5,0.0008],[243.5,0.0088],[245.4,-0.0019],[247.3,-0.0125],[249.3,-0.0072],[251.2,-0.0019],[253.6,0.0008],[256.1,0.0115],[258.5,0.0208],[260.9,0.0008],[263.3,-0.0125],[265.7,-0.0232],[268.2,-0.0232],[270.6,-0.0099],[273,0.0035],[275.5,0.0141],[277.4,0.0221],[279.8,0.0288],[281.8,0.0141],[283.7,-0.0019],[285.6,-0.0125],[287.6,-0.0205],[289.5,-0.0178],[291.5,-0.0205],[293.4,-0.0232],[295.3,-0.0272],[297.3,-0.0232],[299.2,-0.0099]];

// layout of the six panels (frame: left, top, right, bottom in page px)
const panels = [
  {frame:[170,108,1624,647], domain:[-1.5,1.5], ticks:aTicks, sym:"X", unit:"[m]", series:[aRed,aGreen,aBlue], labOff:124, legend:[523,34,730,47,34], cap:[848,880,"a"]},
  {frame:[2381,101,3802,646], domain:[-0.05,0.05], ticks:bTicks, sym:"\u03C6", unit:"[rad]", series:[bRed,bGreen,bBlue], labOff:129, legend:[2721,33,727,47,34], cap:[3024,880,"b"]},
  {frame:[179,1053,1620,1591], domain:[-0.5,0.5], ticks:cTicks, sym:"Y", unit:"[m]", series:[cRed,cGreen,cBlue], labOff:122, legend:[510,978,732,46,34], cap:[848,1834,"c"]},
  {frame:[2363,1037,3814,1591], domain:[-0.07,0.05], ticks:dTicks, sym:"\u03B8", unit:"[rad]", series:[dRed,dGreen,dBlue], labOff:142, legend:[2713,971,741,48,35], cap:[3024,1834,"d"]},
  {frame:[165,2014,1618,2553], domain:[-1,0.5], ticks:eTicks, sym:"Z", unit:"[m]", series:[eRed,eGreen,eBlue], labOff:114, legend:[528,1949,726,44,34], cap:[848,2809,"e"]},
  {frame:[2350,1989,3827,2564], domain:[-0.1,0.3], ticks:fTicks, sym:"\u03C8", unit:"[rad]", series:[fRed,fGreen,fBlue], labOff:140, legend:[2697,1926,762,46,36], cap:[3024,2809,"f"]}
];

const ML = 240, MR = 30, MT = 20, MB = 190;
const fontFam = '"Liberation Sans", Arial, sans-serif';
const widths = [7.5, 7.5, 6.5];

panels.forEach(p => {
  const [L,T,R,B] = p.frame;
  const fw = R - L, fh = B - T;
  const marks = [
    Plot.ruleX(xTicks.slice(1,-1), {stroke:"#dadada", strokeWidth:2}),
    Plot.line(desired, {x:d=>d[0], y:d=>d[1], stroke:seriesColors[0], strokeWidth:8, strokeDasharray:"32,24"}),
    ...p.series.map((s,i) => Plot.line(s, {x:d=>d[0], y:d=>d[1], stroke:seriesColors[i+1], strokeWidth:widths[i], strokeLinejoin:"round", strokeLinecap:"round", clip:true})),
    Plot.frame({stroke:"#4a4a4a", strokeWidth:2.5})
  ];
  const svg = Plot.plot({
    width: fw + ML + MR, height: fh + MT + MB,
    marginLeft: ML, marginRight: MR, marginTop: MT, marginBottom: MB,
    style: {fontFamily: fontFam, fontSize: "46px", fontWeight: "bold", color: "#111", background: "transparent", overflow: "visible"},
    x: {domain:[0,300], ticks:xTicks, tickFormat:d=>String(d), label:null, tickSize:0, tickPadding:26},
    y: {domain:p.domain, ticks:p.ticks, tickFormat:d=>String(d), label:null, tickSize:0, tickPadding:12},
    marks
  });
  svg.style.position = "absolute";
  svg.style.left = (L - ML) + "px";
  svg.style.top = (T - MT) + "px";
  document.body.appendChild(svg);
  const g = d3.select(svg);
  const yl = g.append("text")
    .attr("transform", `translate(${ML - p.labOff + 16},${MT + fh/2}) rotate(-90)`)
    .attr("text-anchor","middle").attr("font-size",54).attr("font-weight","bold")
    .attr("font-family",fontFam).attr("fill","#111");
  yl.append("tspan").text(p.sym);
  yl.append("tspan").attr("font-size",38).attr("dy",14).text("e");
  yl.append("tspan").attr("dy",-14).text(p.unit);
  g.append("text").attr("x", ML + fw/2).attr("y", MT + fh + 125)
    .attr("text-anchor","middle").attr("font-size",51).attr("font-weight","bold")
    .attr("font-family",fontFam).attr("fill","#111").text("t[s]");

  const [lx,ly,lw,lh,lfs] = p.legend;
  const lg = document.createElement("div");
  lg.className = "legend";
  Object.assign(lg.style, {left:lx+"px", top:ly+"px", width:lw+"px", height:lh+"px", fontSize:lfs+"px"});
  seriesNames.forEach((n,i) => {
    const sw = document.createElement("span");
    sw.className = "sw"; sw.style.background = seriesColors[i];
    lg.appendChild(sw);
    const tx = document.createElement("span");
    tx.textContent = n;
    lg.appendChild(tx);
  });
  document.body.appendChild(lg);

  const cap = document.createElement("div");
  cap.className = "cap";
  cap.style.left = p.cap[0] + "px"; cap.style.top = p.cap[1] + "px";
  cap.innerHTML = "(<b>" + p.cap[2] + "</b>)";
  document.body.appendChild(cap);
});
</script>
</body></html>
